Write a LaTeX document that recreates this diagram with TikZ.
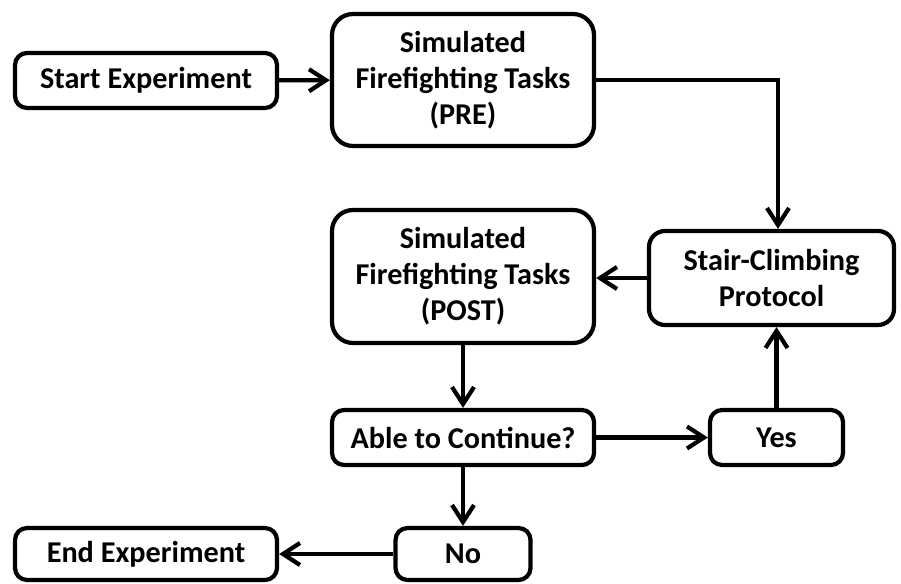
\documentclass[tikz,border=0pt]{standalone}
\usepackage{fontspec}
\setmainfont{Carlito}
\usetikzlibrary{arrows.meta}

\tikzset{
  stepbox/.style={rectangle, draw, line width=2.4pt, align=center,
    inner sep=0pt, font=\fontsize{17.2}{20.5}\selectfont\bfseries},
  smallbox/.style={stepbox, rounded corners=0.24cm, minimum height=1.10cm},
  bigbox/.style={stepbox, rounded corners=0.42cm, minimum width=5.24cm},
  arr/.style={line width=2.4pt, -{Straight Barb[length=0.34cm, width=0.44cm]}}
}

\begin{document}
\begin{tikzpicture}

\useasboundingbox (0,0) rectangle (18.02,11.66);

% top row
\node[smallbox, minimum width=5.24cm] (start) at (2.92,10.05) {Start Experiment};

\node[bigbox, minimum height=2.64cm] (pre) at (9.26,10.06)
{Simulated\\Firefighting Tasks\\(PRE)};

% right side
\node[stepbox, rounded corners=0.32cm, minimum width=4.90cm, minimum height=1.88cm]
(stair) at (15.43,6.10) {Stair-Climbing\\Protocol};

\node[bigbox, minimum height=2.66cm] (post) at (9.26,6.13)
{Simulated\\Firefighting Tasks\\(POST)};

% decision
\node[smallbox, minimum width=5.24cm] (able) at (9.26,2.91) {Able to Continue?};
\node[smallbox, minimum width=2.66cm] (yes) at (15.53,2.91) {Yes};

% bottom row
\node[smallbox, minimum width=2.70cm, minimum height=1.04cm] (no) at (9.26,0.58) {No};
\node[smallbox, minimum width=5.24cm, minimum height=1.04cm] (end) at (2.92,0.58) {End Experiment};

\coordinate (turn) at ([xshift=0.13cm]stair.north);

\draw[arr] (start)--(pre);
\draw[arr] (pre.east) -| (turn);
\draw[arr] (stair)--(stair -| post.east);
\draw[arr] (post)--(able);
\draw[arr] (able)--(yes);
\draw[arr] (yes.north)--(yes.north |- stair.south);
\draw[arr] (able)--(no);
\draw[arr] (no)--(end);

\end{tikzpicture}
\end{document}
